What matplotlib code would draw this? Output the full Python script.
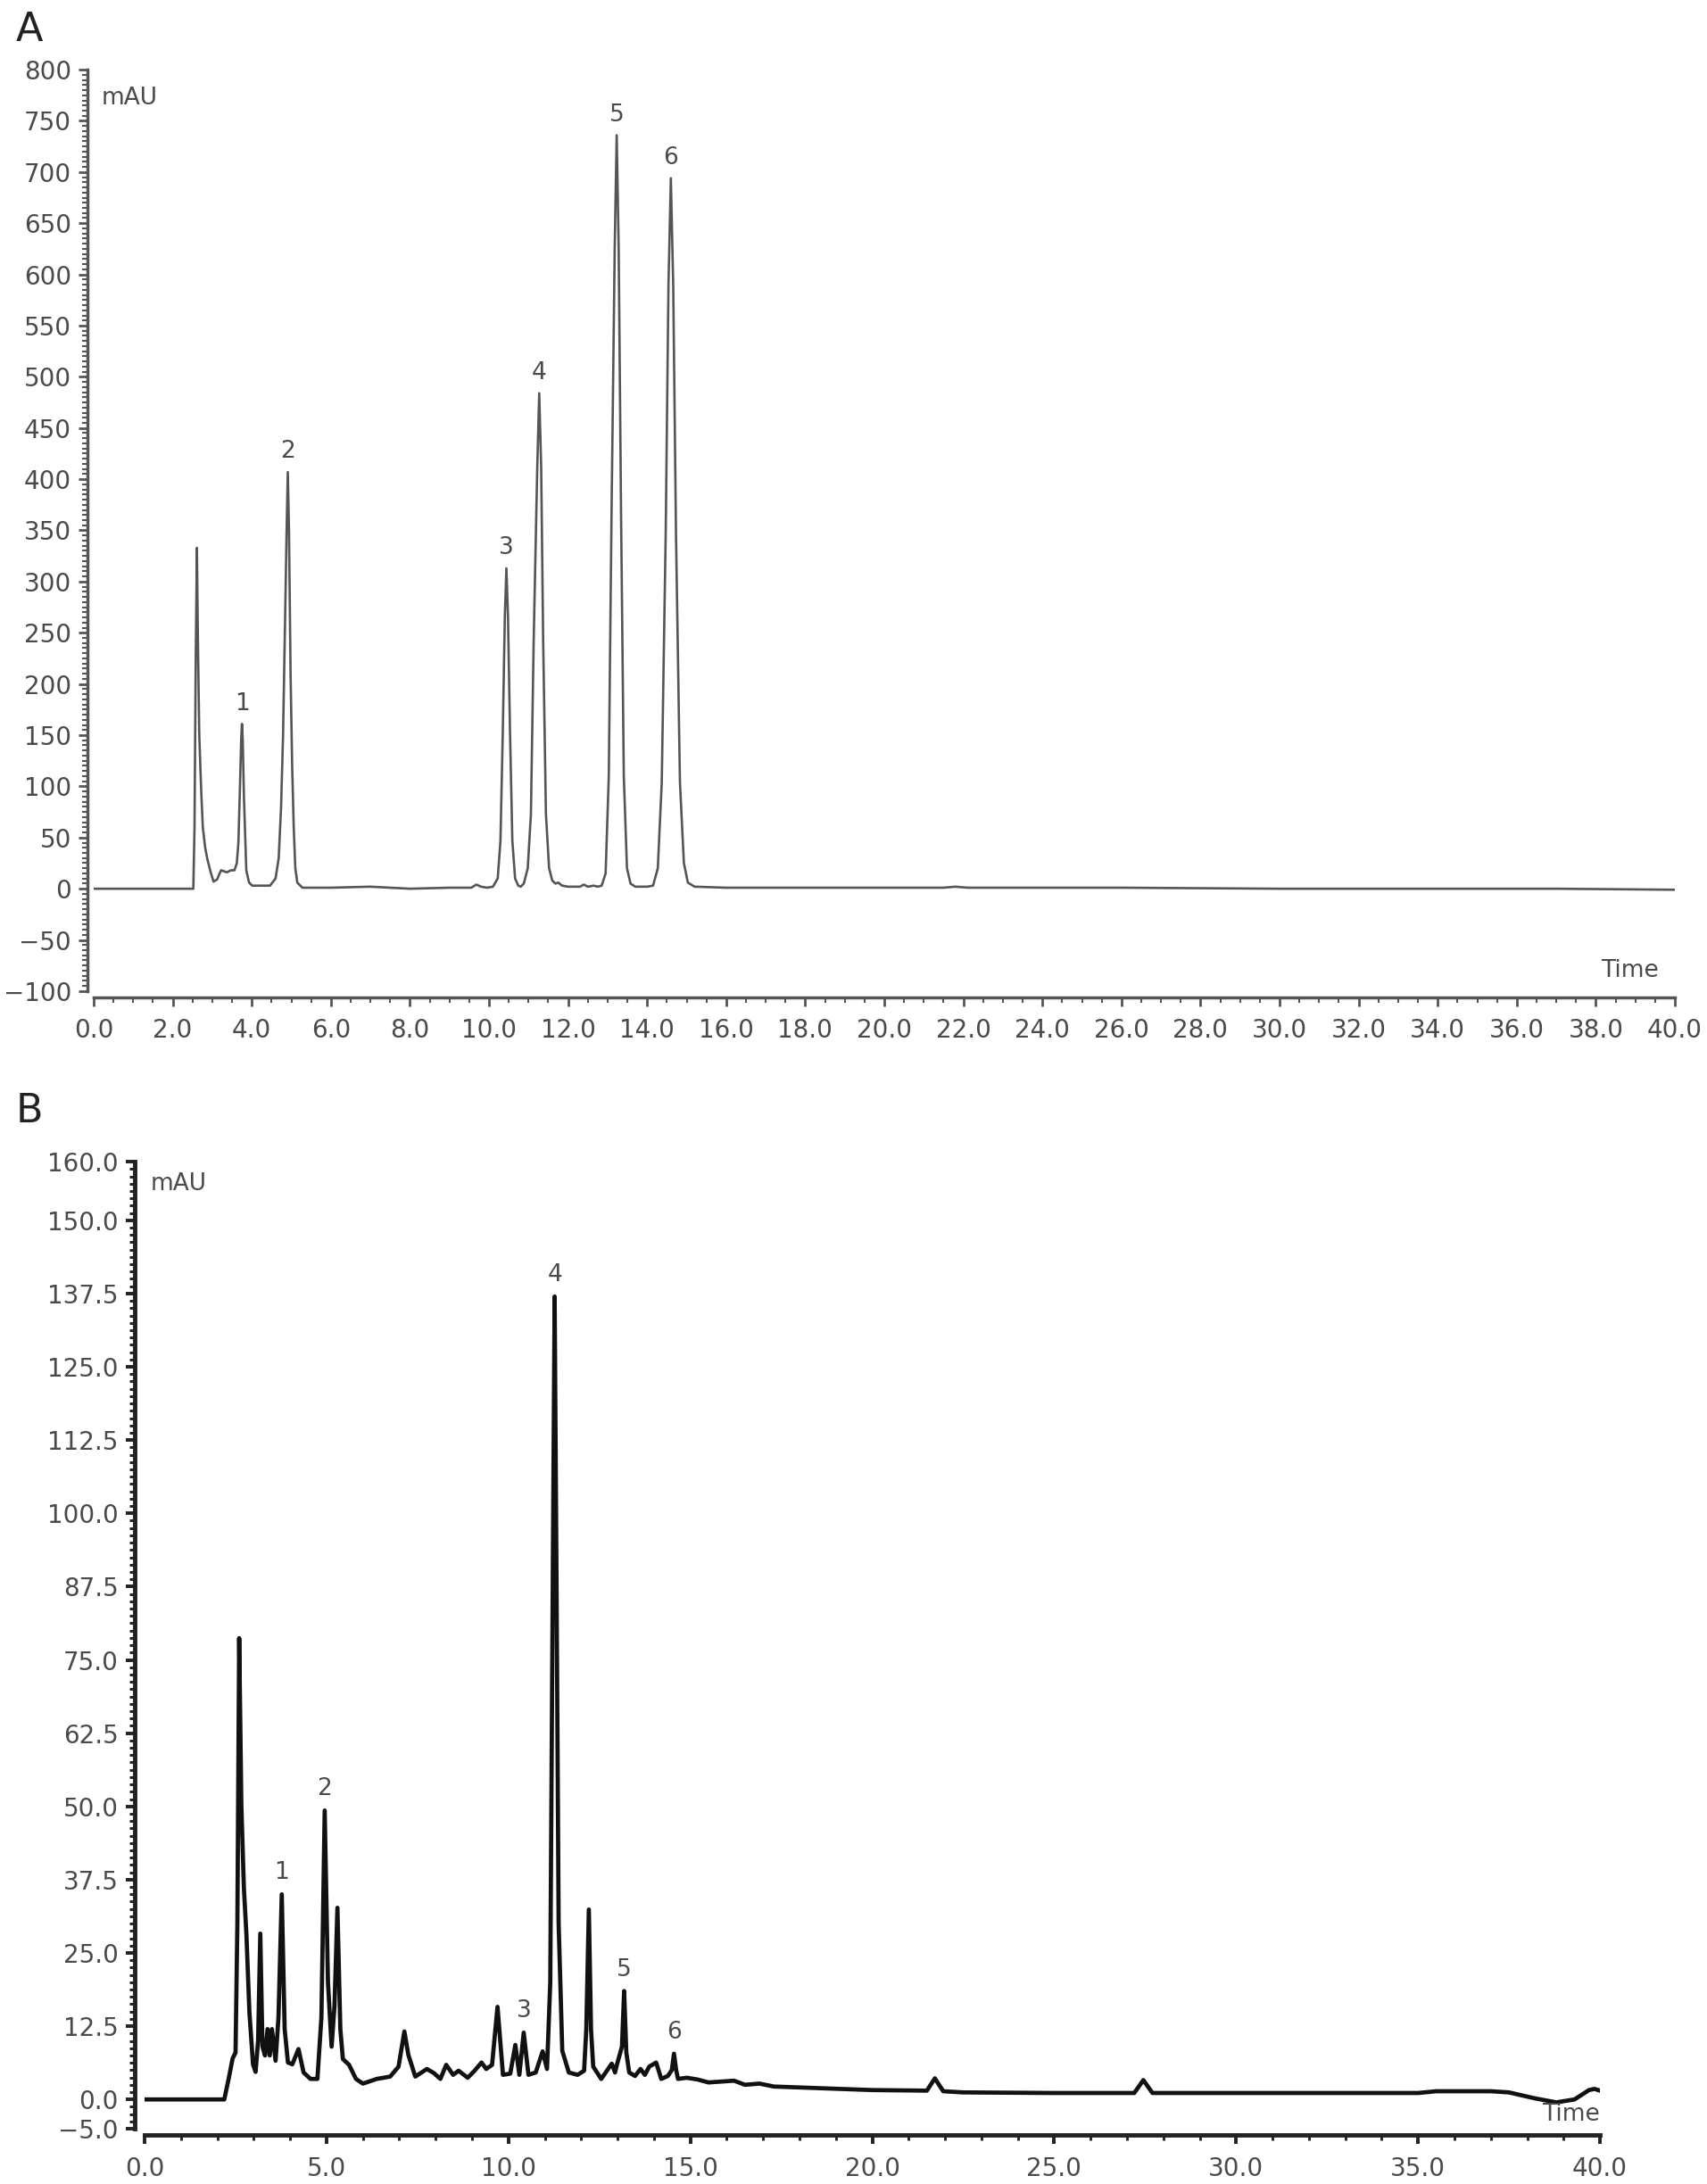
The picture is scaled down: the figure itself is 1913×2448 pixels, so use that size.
import matplotlib
matplotlib.use('Agg')
import matplotlib.pyplot as plt
import numpy as np
from matplotlib.ticker import MultipleLocator

# --- chromatogram A (standards) ---
time_a = [0.0, 2.52, 2.55, 2.58, 2.61, 2.63, 2.67, 2.72, 2.76, 2.82, 2.88, 2.96, 3.03,
          3.12, 3.22, 3.30, 3.37, 3.47, 3.56, 3.62, 3.66, 3.70, 3.73, 3.75, 3.77, 3.80,
          3.86, 3.93, 4.01, 4.20, 4.46, 4.60, 4.68, 4.74, 4.79, 4.84, 4.88, 4.91, 4.94,
          4.98, 5.02, 5.06, 5.10, 5.15, 5.28, 5.6, 6.0, 7.0, 8.0, 9.0, 9.55, 9.68, 9.80,
          9.95, 10.10, 10.22, 10.29, 10.35, 10.40, 10.44, 10.48, 10.53, 10.59, 10.66,
          10.74, 10.80, 10.88, 10.98, 11.06, 11.13, 11.22, 11.27, 11.32, 11.37, 11.44,
          11.52, 11.60, 11.68, 11.75, 11.85, 12.0, 12.3, 12.4, 12.5, 12.65, 12.75, 12.85,
          12.95, 13.03, 13.10, 13.18, 13.23, 13.28, 13.34, 13.41, 13.49, 13.58, 13.70,
          14.0, 14.15, 14.27, 14.37, 14.47, 14.54, 14.60, 14.66, 14.73, 14.83, 14.93,
          15.03, 15.2, 16.0, 18.0, 21.5, 21.8, 22.1, 26.0, 30.0, 34.0, 37.0, 40.0]
signal_a = [0, 0, 60, 220, 333, 260, 150, 95, 60, 40, 28, 16, 7,
            9, 18, 17, 16, 18, 18, 25, 45, 100, 145, 161, 145, 90,
            18, 6, 3, 3, 3, 10, 30, 80, 150, 260, 350, 407, 350,
            210, 120, 60, 20, 6, 1, 1, 1, 2, 0, 1, 1, 4, 2,
            1, 2, 10, 47, 156, 266, 313, 266, 156, 47, 10,
            3, 2, 5, 20, 73, 242, 411, 484, 411, 242, 73,
            20, 8, 5, 6, 3, 2, 2, 4, 2, 3, 2, 3,
            15, 110, 368, 626, 736, 626, 368, 110, 20, 5, 2,
            2, 3, 20, 104, 347, 590, 694, 590, 347, 104, 25,
            6, 2, 1, 1, 1, 2, 1, 1, 0, 0, 0, -1]

peak_t_a = [3.75, 4.91, 10.44, 11.27, 13.23, 14.60]
peak_h_a = [161, 407, 313, 484, 736, 694]

# --- chromatogram B (sample) ---
time_b = [0.0, 2.19, 2.31, 2.42, 2.50, 2.55, 2.60, 2.66, 2.73, 2.80, 2.88, 2.98, 3.05, 3.12,
          3.18, 3.24, 3.31, 3.38, 3.44, 3.50, 3.60, 3.68, 3.77, 3.85, 3.94, 4.06, 4.23,
          4.37, 4.56, 4.75, 4.86, 4.95, 5.04, 5.14, 5.22, 5.30, 5.38, 5.45, 5.62, 5.81,
          6.00, 6.38, 6.75, 6.98, 7.14, 7.25, 7.44, 7.76, 7.95, 8.13, 8.29, 8.48, 8.63,
          8.88, 9.07, 9.26, 9.39, 9.55, 9.70, 9.85, 10.05, 10.19, 10.30, 10.42, 10.55,
          10.75, 10.94, 11.06, 11.15, 11.22, 11.27, 11.32, 11.38, 11.48, 11.66, 11.90,
          12.08, 12.14, 12.21, 12.27, 12.33, 12.55, 12.84, 12.93, 12.98, 13.12, 13.18,
          13.24, 13.32, 13.48, 13.63, 13.75, 13.87, 14.06, 14.20, 14.38, 14.49, 14.55,
          14.61, 14.66, 14.90, 15.2, 15.5, 16.2, 16.5, 16.9, 17.3, 18.2, 20.0, 21.5,
          21.72, 21.95, 22.5, 25.0, 27.2, 27.45, 27.7, 30.0, 35.0, 35.5, 37.0, 37.5,
          38.2, 38.8, 39.3, 39.7, 39.85, 40.0]
signal_b = [0, 0, 3.5, 7.0, 8.0, 30, 78.7, 50, 36, 28, 15, 6.0, 4.7, 10,
            28.3, 9, 7.5, 12, 7.5, 12, 6.6, 14, 35, 12, 6.3, 6.0, 8.6,
            4.6, 3.5, 3.5, 14, 49.3, 20, 9, 16, 32.7, 12, 6.9, 5.9, 3.5,
            2.7, 3.5, 3.9, 5.6, 11.6, 7.6, 3.9, 5.2, 4.5, 3.5, 5.9, 4.2, 4.9,
            3.7, 4.9, 6.3, 5.2, 5.9, 15.8, 4.2, 4.4, 9.3, 4.2, 11.4, 4.2,
            4.6, 8.2, 5.2, 20, 90, 137, 90, 30, 8.3, 4.6, 4.2,
            4.9, 12, 32.4, 12, 5.6, 3.5, 6.1, 4.6, 5.9, 9, 18.5,
            8, 4.6, 4.0, 5.2, 4.2, 5.6, 6.3, 3.5, 4.0, 5, 7.8,
            5, 3.5, 3.7, 3.4, 2.9, 3.2, 2.5, 2.7, 2.2, 2.0, 1.6, 1.5,
            3.6, 1.4, 1.2, 1.1, 1.1, 3.3, 1.1, 1.1, 1.1, 1.4, 1.4, 1.2,
            0.2, -0.5, 0.0, 1.6, 1.8, 1.5]

peak_t_b = [3.77, 4.95, 10.42, 11.27, 13.18, 14.55]
peak_h_b = [35, 49.3, 11.4, 137, 18.5, 7.8]

peak_names = ['1', '2', '3', '4', '5', '6']

xticks_a = np.arange(0, 40.1, 2.0)
yticks_a = np.arange(-100, 801, 50)
xticks_b = np.arange(0, 40.1, 5.0)
yticks_b = [-5.0, 0.0, 12.5, 25.0, 37.5, 50.0, 62.5, 75.0, 87.5, 100.0, 112.5,
            125.0, 137.5, 150.0, 160.0]

plt.rcParams['font.family'] = ['DejaVu Sans']
text_col = '#4a4a4a'

fig = plt.figure(figsize=(19.13, 24.48), dpi=100)

# panel A
ax1 = fig.add_axes([0.0549, 0.5462, 0.9263, 0.4219])
ax1.plot(time_a, signal_a, color='#555555', lw=1.9)
ax1.set_xlim(0, 40)
ax1.set_ylim(-100, 800)
ax1.set_xticks(xticks_a)
ax1.set_xticklabels(['%.1f' % v for v in xticks_a])
ax1.set_yticks(yticks_a)
ax1.set_yticklabels(['%g' % v for v in yticks_a])
ax1.xaxis.set_minor_locator(MultipleLocator(0.5))
ax1.yaxis.set_minor_locator(MultipleLocator(5))
for t, h, n in zip(peak_t_a, peak_h_a, peak_names):
    ax1.annotate(n, (t, h), xytext=(0, 7), textcoords='offset points',
                 ha='center', va='bottom', fontsize=19, color=text_col)
ax1.text(0.005, 0.982, 'mAU', transform=ax1.transAxes, ha='left', va='top',
         fontsize=19, color=text_col)
ax1.text(0.99, 0.022, 'Time', transform=ax1.transAxes, ha='right', va='center',
         fontsize=19, color=text_col)

# panel B
ax2 = fig.add_axes([0.0847, 0.0253, 0.8526, 0.4428])
ax2.plot(time_b, signal_b, color='#111111', lw=3.4)
ax2.set_xlim(0, 40)
ax2.set_ylim(-5, 160)
ax2.set_xticks(xticks_b)
ax2.set_xticklabels(['%.1f' % v for v in xticks_b])
ax2.set_yticks(yticks_b)
ax2.set_yticklabels(['%.1f' % v for v in yticks_b])
ax2.xaxis.set_minor_locator(MultipleLocator(1))
ax2.yaxis.set_minor_locator(MultipleLocator(1.25))
for t, h, n in zip(peak_t_b, peak_h_b, peak_names):
    ax2.annotate(n, (t, h), xytext=(0, 8), textcoords='offset points',
                 ha='center', va='bottom', fontsize=19, color=text_col)
ax2.text(0.004, 0.977, 'mAU', transform=ax2.transAxes, ha='left', va='center',
         fontsize=19, color=text_col)
ax2.text(1.0, 0.015, 'Time', transform=ax2.transAxes, ha='right', va='center',
         fontsize=19, color=text_col)

# chromatography-software look: only left/bottom axes, pushed out a little
for ax, spine_col, lw, off in [(ax1, '#555555', 2.5, 5), (ax2, '#222222', 3.5, 8)]:
    ax.spines['top'].set_visible(False)
    ax.spines['right'].set_visible(False)
    ax.spines['left'].set_position(('outward', off))
    ax.spines['bottom'].set_position(('outward', 5))
    for s in ['left', 'bottom']:
        ax.spines[s].set_color(spine_col)
        ax.spines[s].set_linewidth(lw)
    ax.tick_params(which='major', length=7, width=lw * 0.8, color=spine_col,
                   labelsize=20, labelcolor=text_col, pad=6)
    ax.tick_params(which='minor', length=4, width=lw * 0.6, color=spine_col)
    ax.tick_params(axis='x', which='major', pad=10)
    # unicode minus for the negative labels
    ax.set_yticklabels([l.get_text().replace('-', '\u2212') for l in ax.get_yticklabels()])

fig.text(0.009, 0.995, 'A', ha='left', va='top', fontsize=32, color='#222222')
fig.text(0.009, 0.5, 'B', ha='left', va='top', fontsize=32, color='#222222')

fig.savefig('out.png', dpi=100)
plt.close()
